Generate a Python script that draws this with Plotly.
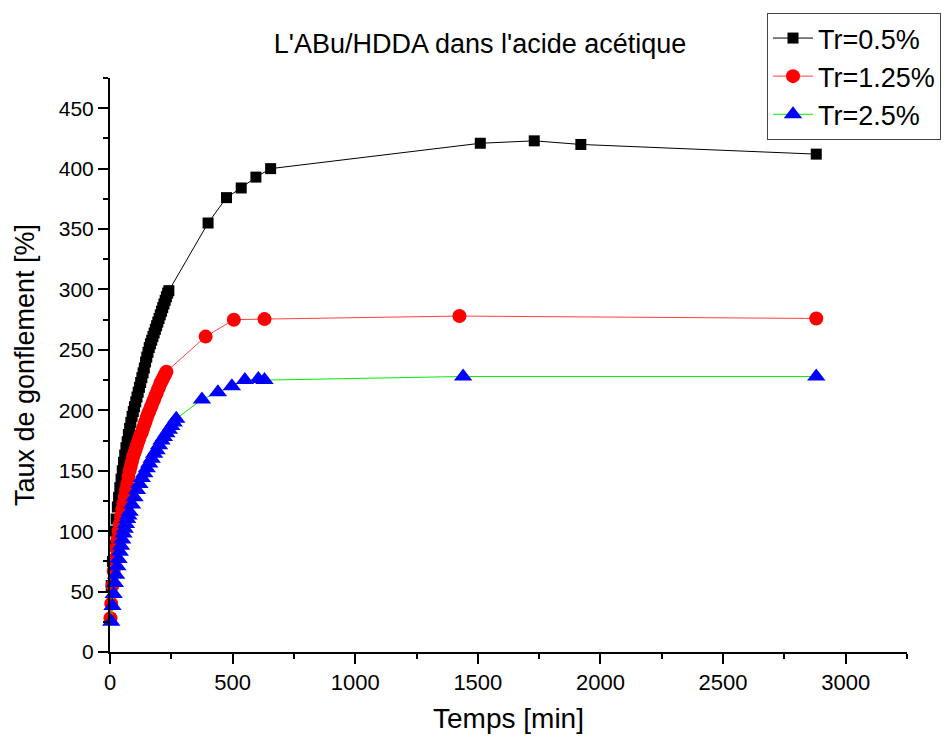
import plotly.graph_objects as go

# Tr=0.5%
t_black = [5, 10, 15, 20, 25, 30, 35, 40, 45, 50, 55, 60, 65, 70, 75, 80, 85, 90, 95, 100,
           105, 110, 115, 120, 125, 130, 135, 140, 145, 150, 155, 160, 165, 170, 175, 180,
           185, 190, 195, 200, 205, 210, 215, 220, 225, 230, 235, 240,
           400, 475, 535, 595, 655, 1510, 1730, 1920, 2880]
v_black = [55, 75, 88, 100, 110, 120, 128, 136, 143, 150, 157, 163, 169, 174, 180, 185, 190, 195, 199, 203,
           207, 211, 215, 219, 223, 227, 231, 235, 240, 244, 248, 252, 255, 258, 261, 264,
           267, 270, 273, 276, 279, 282, 285, 288, 291, 294, 297, 299,
           355, 376, 384, 393, 400, 421, 423, 420, 412]

# Tr=1.25%
t_red = [2, 5, 10, 15, 20, 25, 30, 35, 40, 45, 50, 55, 60, 65, 70, 75, 80, 85, 90, 95, 100,
         105, 110, 115, 120, 125, 130, 135, 140, 145, 150, 155, 160, 165, 170, 175, 180,
         185, 190, 195, 200, 205, 210, 215, 220, 225, 230,
         390, 505, 630, 1425, 2880]
v_red = [28, 40, 55, 67, 77, 86, 93, 100, 106, 112, 118, 123, 128, 134, 139, 145, 150, 154, 158, 162, 165,
         168, 171, 174, 177, 180, 182, 185, 188, 191, 194, 197, 199, 202, 204, 207, 209,
         212, 214, 217, 219, 222, 224, 226, 228, 230, 232,
         261, 275, 275.5, 278, 276]

# Tr=2.5%
t_blue = [5, 10, 15, 20, 25, 30, 35, 40, 45, 50, 55, 60, 65, 70, 75, 80, 90, 100, 110, 120,
          130, 140, 150, 160, 170, 180, 190, 200, 210, 220, 230, 240, 250, 260, 270,
          375, 440, 497, 550, 605, 630, 1440, 2880]
v_blue = [25, 38, 48, 57, 64, 71, 77, 83, 88, 93, 98, 102, 106, 110, 113, 116, 122, 128, 134, 139,
          144, 148, 152, 156, 160, 164, 167, 171, 175, 178, 181, 184, 187, 190, 193,
          209, 215, 220, 225, 226, 225, 228, 228]

series_names = ["Tr=0.5%", "Tr=1.25%", "Tr=2.5%"]

FONT = "Liberation Sans, Arial, sans-serif"

fig = go.Figure()
fig.add_trace(go.Scatter(x=t_black, y=v_black, mode="lines+markers", name=series_names[0],
                         line=dict(color="black", width=1),
                         marker=dict(symbol="square", size=11, color="black"), cliponaxis=False))
fig.add_trace(go.Scatter(x=t_red, y=v_red, mode="lines+markers", name=series_names[1],
                         line=dict(color="#ff4040", width=1),
                         marker=dict(symbol="circle", size=14, color="#ff0000"), cliponaxis=False))
fig.add_trace(go.Scatter(x=t_blue, y=v_blue, mode="lines+markers", name=series_names[2],
                         line=dict(color="#00ee00", width=1),
                         marker=dict(symbol="triangle-up", size=16, color="#0000ff"), cliponaxis=False))

fig.update_layout(
    width=952, height=738,
    paper_bgcolor="white", plot_bgcolor="white",
    margin=dict(l=110, r=45, t=78, b=86, autoexpand=False),
    font=dict(family=FONT, color="black"),
    title=dict(text="L'ABu/HDDA dans l'acide acétique", x=480 / 952, xref="container", xanchor="center",
               y=1 - 44 / 738, yref="container", yanchor="middle", font=dict(size=27)),
    showlegend=True,
    legend=dict(x=(767 - 110) / 797, y=(652 - 13) / 574, xanchor="left", yanchor="top", bgcolor="white",
                bordercolor="#444", borderwidth=1, font=dict(size=27), tracegroupgap=0,
                itemwidth=40),
)
fig.update_xaxes(range=[0, 3250], showline=True, linecolor="black", linewidth=2,
                 showgrid=False, zeroline=False, ticks="outside", ticklen=10, tickwidth=2,
                 tickcolor="black", dtick=500, tick0=0,
                 tickfont=dict(size=22),
                 minor=dict(ticks="outside", ticklen=5, tickwidth=2, dtick=250, tickcolor="black"),
                 title=dict(text="Temps [min]", font=dict(size=28), standoff=14))
fig.update_yaxes(range=[0, 475], showline=True, linecolor="black", linewidth=2,
                 showgrid=False, zeroline=False, ticks="outside", ticklen=10, tickwidth=2,
                 tickcolor="black", dtick=50, tick0=0, tickfont=dict(size=21),
                 minor=dict(ticks="outside", ticklen=5, tickwidth=2, dtick=25, tickcolor="black"),
                 title=dict(text="Taux de gonflement [%]", font=dict(size=27), standoff=16))

fig.write_html("out.html", config={"displayModeBar": False},
               post_script="document.body.style.margin='0';")
